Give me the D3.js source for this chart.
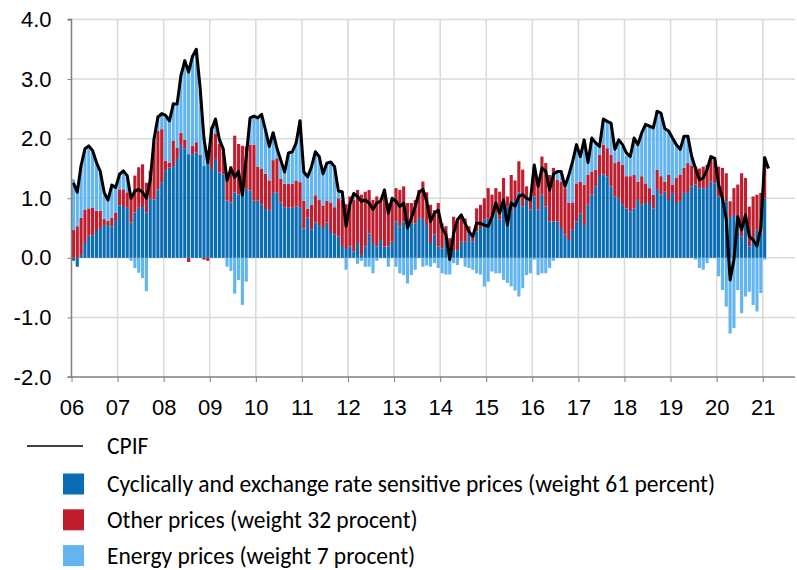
<!DOCTYPE html>
<html>
<head>
<meta charset="utf-8">
<title>CPIF contributions</title>
<script src="https://d3js.org/d3.v7.min.js"></script>
<style>
  body { margin: 0; background: #fff; }
  svg { display: block; }
  .axis text { font-family: "Liberation Sans", Arial, sans-serif; font-size: 22px; fill: #000; }
  .legend text { font-family: Carlito, Lato, sans-serif; font-size: 23.5px; fill: #000; }
</style>
</head>
<body>
<script>

// monthly contributions, Jan 2006 onwards (percentage points)
var startYear = 2006;
var yearLabels = ["06","07","08","09","10","11","12","13","14","15","16","17","18","19","20","21"];
var yTicks = [-2, -1, 0, 1, 2, 3, 4];

var cyclical = [
  -0.05,-0.15,0.05,0.25,0.37,0.38,0.45,0.5,0.55,0.55,0.53,0.62,
  0.88,0.87,0.84,0.59,0.76,0.84,0.87,0.76,1.0,0.98,1.15,1.26,
  1.46,1.52,1.54,1.66,1.89,1.83,1.74,1.74,1.77,1.71,1.54,1.6,
  1.49,1.66,1.43,1.4,0.96,0.93,1.1,1.06,1.04,1.16,1.13,0.96,
  0.96,0.9,0.82,0.79,1.09,1.1,0.93,0.85,0.84,0.84,0.86,0.85,
  0.49,0.68,0.48,0.59,0.55,0.5,0.59,0.45,0.39,0.36,0.2,0.15,
  0.19,0.11,0.25,0.05,0.19,0.41,0.25,0.19,0.3,0.19,0.19,0.27,
  0.61,0.53,0.61,0.53,0.58,0.58,0.67,0.65,0.55,0.25,0.39,0.19,
  0.16,0.3,0.02,0.13,0.13,0.27,0.27,0.41,0.27,0.44,0.5,0.64,
  0.66,0.64,0.75,0.64,0.86,0.86,0.78,0.97,1.1,0.86,0.97,0.81,
  1.03,0.81,1.06,0.86,0.61,0.61,0.61,0.5,0.39,0.3,0.47,0.61,
  0.75,0.55,0.89,1.06,1.2,1.39,1.4,1.37,1.2,1.03,1.0,0.89,
  0.83,0.78,0.83,0.97,0.89,0.92,0.92,0.83,1.14,1.06,1.11,0.97,
  1.09,0.92,0.95,1.09,1.09,1.2,1.23,1.17,1.17,1.17,1.28,1.25,
  1.03,1.0,0.95,0.67,0.72,0.47,0.36,0.64,0.19,0.3,0.47,0.41,
  1.0
];

var other = [
  0.47,0.53,0.62,0.56,0.46,0.46,0.34,0.29,0.1,0.07,0.14,0.14,
  0.27,0.28,0.26,0.45,0.62,0.68,0.7,0.5,0.46,0.96,0.98,0.9,
  0.17,0.08,0.43,0.19,0.21,0.15,-0.07,0.14,0.17,0.02,-0.03,-0.05,
  0.7,0.42,0.48,0.43,0.47,0.61,0.95,0.85,0.84,0.71,0.77,0.94,
  0.57,0.6,0.59,0.51,0.55,0.57,0.4,0.39,0.4,0.4,0.44,0.42,
  0.47,0.14,0.41,0.46,0.42,0.38,0.37,0.48,0.46,0.64,0.77,0.75,
  0.84,0.86,0.89,1.01,0.92,0.73,0.72,0.84,0.67,0.95,0.73,0.7,
  0.56,0.61,0.59,0.39,0.34,0.39,0.47,0.63,0.55,0.64,0.41,0.73,
  0.42,0.23,0.31,0.56,0.53,0.45,0.39,0.12,0.14,0.39,0.39,0.36,
  0.51,0.42,0.42,0.47,0.48,0.17,0.61,0.33,0.52,0.62,0.23,0.16,
  0.5,0.53,0.64,0.73,0.78,0.9,0.7,0.78,0.78,0.62,0.45,0.64,
  0.53,0.68,0.5,0.39,0.28,0.34,0.5,0.47,0.53,0.56,0.62,0.67,
  0.54,0.59,0.56,0.31,0.48,0.33,0.25,0.23,0.34,0.31,0.17,0.42,
  0.14,0.42,0.44,0.42,0.5,0.35,0.3,0.33,0.36,0.39,0.39,0.37,
  0.5,0.51,0.47,0.28,0.45,0.76,1.06,0.7,0.67,0.73,0.59,0.68,
  0.7
];

var energy = [
  0.85,0.59,0.88,1.02,1.05,0.96,0.81,0.64,0.45,0.35,0.57,0.44,
  0.28,0.31,0.28,-0.05,-0.17,-0.25,-0.34,-0.56,0,0.06,0.26,0.26,
  0.73,0.7,0.64,0.73,0.96,1.33,1.43,1.52,1.57,1.1,0.49,0.05,
  0,0.25,0.08,0,-0.15,-0.22,-0.6,-0.37,-0.79,-0.4,0.42,0.48,
  0.82,0.9,0.74,0.57,0.46,0.17,0.31,0.2,0.52,0.54,0.63,1.03,
  0.48,0.54,0.64,0.73,0.73,0.53,0.63,0.68,0.68,0.14,0.14,-0.2,
  0,0.1,-0.1,-0.05,-0.15,-0.15,-0.26,-0.05,0,0,-0.15,0.03,
  -0.15,-0.26,-0.29,-0.43,-0.29,-0.2,0,-0.15,-0.13,-0.15,-0.09,-0.17,
  -0.26,-0.28,-0.28,-0.09,-0.12,0,-0.15,-0.17,-0.2,-0.26,-0.28,-0.48,
  -0.4,-0.23,-0.26,-0.26,-0.37,-0.42,-0.48,-0.55,-0.65,-0.51,-0.29,-0.26,
  -0.03,-0.29,-0.26,-0.26,-0.17,-0.05,0.14,0.17,0.05,0.47,0.7,0.65,
  0.42,0.75,0.21,0.56,0.45,0.14,0.43,0.45,0.53,0.2,0.36,0.31,
  0.35,0.33,0.59,0.62,0.73,0.99,1.05,1.12,1.0,1.06,0.9,0.73,
  0.78,0.56,0.45,0.53,0.45,0.15,-0.03,-0.17,-0.2,-0.09,0.03,0.05,
  -0.31,-0.54,-0.82,-1.27,-1.18,-0.54,-0.93,-0.65,-0.57,-0.79,-0.9,-0.59,
  -0.03
];

var cpif = [
  1.26,1.1,1.55,1.83,1.88,1.8,1.6,1.45,1.1,0.97,1.22,1.18,
  1.4,1.46,1.38,1.0,1.12,1.15,1.1,1.0,1.3,2.0,2.36,2.42,
  2.39,2.3,2.58,2.58,3.06,3.31,3.12,3.38,3.5,2.85,2.0,1.6,
  2.16,2.33,1.99,1.83,1.3,1.5,1.35,1.45,1.05,1.7,2.35,2.38,
  2.35,2.41,2.15,1.87,2.1,1.84,1.64,1.44,1.76,1.78,1.93,2.3,
  1.44,1.36,1.53,1.78,1.7,1.41,1.59,1.61,1.53,1.12,1.11,0.53,
  0.9,1.08,1.03,0.95,0.97,0.92,0.81,0.92,0.95,1.14,0.75,1.0,
  0.95,0.86,0.92,0.5,0.67,0.86,1.1,1.15,0.95,0.61,0.75,0.8,
  0.5,0.39,-0.03,0.41,0.64,0.72,0.58,0.44,0.36,0.58,0.58,0.55,
  0.53,0.69,0.92,0.75,0.97,0.55,0.92,0.87,1.03,1.06,1.0,0.97,
  1.56,1.2,1.51,1.45,1.14,1.4,1.45,1.45,1.2,1.39,1.62,1.9,
  1.7,1.98,1.6,2.01,1.93,1.87,2.33,2.29,2.26,1.82,1.98,1.9,
  1.76,1.7,2.01,1.9,2.1,2.24,2.21,2.18,2.46,2.43,2.17,2.13,
  2.01,1.9,1.82,2.04,2.04,1.7,1.5,1.31,1.34,1.48,1.7,1.67,
  1.23,1.0,0.65,-0.37,-0.03,0.69,0.47,0.72,0.36,0.3,0.2,0.5,
  1.68,1.5
];

var seriesKeys = ["cyclical", "other", "energy"];
var legendLabels = [
  "CPIF",
  "Cyclically and exchange rate sensitive prices (weight 61 percent)",
  "Other prices (weight 32 procent)",
  "Energy prices (weight 7 procent)"
];
var colors = { cyclical: "#0a6db4", other: "#be1e2d", energy: "#62b5f0" };

var width = 797, height = 570;
var plotLeft = 71.5, plotRight = 795, plotTop = 19.5, plotBottom = 377;

var svg = d3.select("body").append("svg")
  .attr("width", width)
  .attr("height", height);

// month index scale (0 = Jan 2006)
var x = d3.scaleLinear().domain([0, 188.4]).range([plotLeft, plotRight]);
var y = d3.scaleLinear().domain([-2, 4]).range([plotBottom, plotTop]);

// gridlines
var grid = svg.append("g").attr("stroke", "#d9d9d9").attr("stroke-width", 1.5);
grid.selectAll("line.h")
  .data(yTicks.filter(function(d){ return d > -2; }))
  .enter().append("line")
    .attr("x1", plotLeft).attr("x2", plotRight)
    .attr("y1", function(d){ return y(d); })
    .attr("y2", function(d){ return y(d); });
grid.selectAll("line.v")
  .data(d3.range(1, yearLabels.length))
  .enter().append("line")
    .attr("x1", function(d){ return x(d * 12); })
    .attr("x2", function(d){ return x(d * 12); })
    .attr("y1", y(-2)).attr("y2", y(4));

// stacked bars
var rows = cyclical.map(function(v, i){
  return { i: i, cyclical: v, other: other[i], energy: energy[i] };
});
var stacked = d3.stack().keys(seriesKeys).offset(d3.stackOffsetDiverging)(rows);
var step = x(1) - x(0);

svg.append("g").selectAll("g")
  .data(stacked)
  .enter().append("g")
    .attr("fill", function(s){ return colors[s.key]; })
  .selectAll("rect")
  .data(function(s){ return s; })
  .enter().append("rect")
    .attr("x", function(d){ return x(d.data.i) + 0.35; })
    .attr("width", step - 0.7)
    .attr("y", function(d){ return y(Math.max(d[0], d[1])); })
    .attr("height", function(d){ return Math.abs(y(d[0]) - y(d[1])); });

// CPIF line
var line = d3.line()
  .x(function(d, i){ return x(i + 0.5); })
  .y(function(d){ return y(d); });

svg.append("path")
  .datum(cpif)
  .attr("fill", "none")
  .attr("stroke", "#000")
  .attr("stroke-width", 3)
  .attr("stroke-linejoin", "round")
  .attr("d", line);

// axes
var yAxis = svg.append("g")
  .attr("class", "axis")
  .attr("transform", "translate(" + plotLeft + ",0)")
  .call(d3.axisLeft(y).tickValues(yTicks).tickSize(4).tickPadding(16)
    .tickFormat(function(d){ return d.toFixed(1); }));

var xAxis = svg.append("g")
  .attr("class", "axis")
  .attr("transform", "translate(0," + plotBottom + ")")
  .call(d3.axisBottom(x).tickValues(d3.range(0, yearLabels.length).map(function(d){ return d * 12; }))
    .tickSize(5).tickPadding(17)
    .tickFormat(function(d){ return yearLabels[d / 12]; }));

svg.selectAll(".axis path.domain").attr("stroke", "#7f7f7f").attr("stroke-width", 1.5);
svg.selectAll(".axis .tick line").attr("stroke", "#7f7f7f").attr("stroke-width", 1);
yAxis.select("path.domain").attr("d", "M-4," + plotBottom + "H0V" + plotTop + "H-4");
xAxis.select("path.domain").attr("d", "M" + plotLeft + ",0H" + plotRight);

// legend
var legend = svg.append("g").attr("class", "legend");
legend.append("line")
  .attr("x1", 27).attr("x2", 83).attr("y1", 446).attr("y2", 446)
  .attr("stroke", "#000").attr("stroke-width", 1.5);
legend.append("text").attr("x", 107).attr("y", 446).attr("dy", "0.35em").text(legendLabels[0]);

seriesKeys.forEach(function(k, i){
  var cy = 484 + i * 35.8;
  legend.append("rect")
    .attr("x", 63).attr("y", cy - 10.5).attr("width", 21).attr("height", 21)
    .attr("fill", colors[k]);
  legend.append("text").attr("x", 107).attr("y", cy).attr("dy", "0.35em").text(legendLabels[i + 1]);
});

</script>
</body>
</html>
